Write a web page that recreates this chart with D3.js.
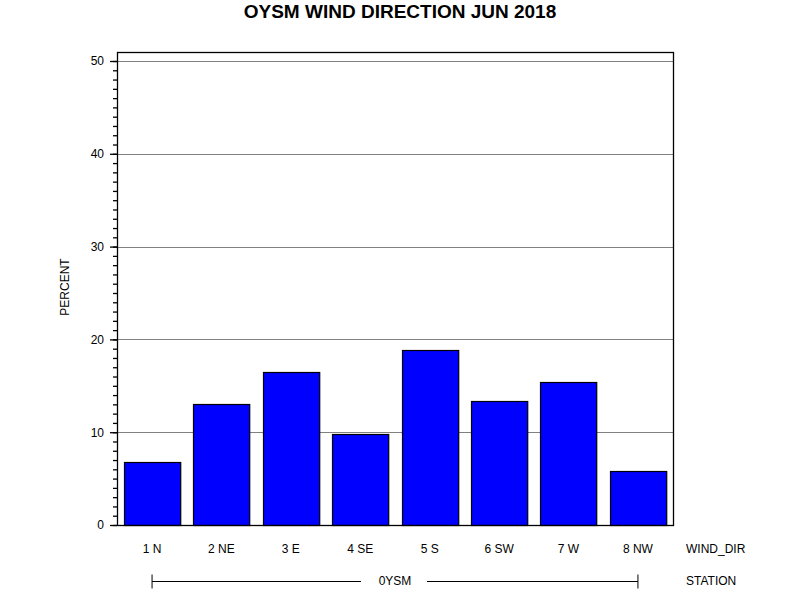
<!DOCTYPE html>
<html>
<head>
<meta charset="utf-8">
<script src="https://cdn.jsdelivr.net/npm/d3@7"></script>
<style>
  body { margin: 0; background: #fff; }
  svg { font-family: "Liberation Sans", Arial, sans-serif; }
</style>
</head>
<body>
<svg id="chart" width="800" height="600"></svg>
<script>
const windDirs = ["1 N", "2 NE", "3 E", "4 SE", "5 S", "6 SW", "7 W", "8 NW"];
const percents = [6.8, 13.0, 16.5, 9.8, 18.9, 13.4, 15.4, 5.8];
const majorTicks = [0, 10, 20, 30, 40, 50];
const station = "0YSM";

const margin = {left: 117, right: 127, top: 52, bottom: 75};
const width = 800 - margin.left - margin.right;
const height = 600 - margin.top - margin.bottom;

const svg = d3.select("#chart");

const yScale = d3.scaleLinear()
    .domain([0, 50.97])
    .range([height, 0]);

const xScale = d3.scaleBand()
    .domain(windDirs)
    .range([0, width])
    .paddingInner(0.19)
    .paddingOuter(0.1);

// title
svg.append("text")
    .text("OYSM WIND DIRECTION JUN 2018")
    .attr("x", 400)
    .attr("y", 18)
    .attr("text-anchor", "middle")
    .attr("font-weight", "bold")
    .attr("font-size", 19);

const g = svg.append("g")
    .attr("transform", `translate(${margin.left}, ${margin.top})`);

// grid lines
g.selectAll(".grid")
    .data(majorTicks.filter(d => d > 0))
    .enter()
    .append("line")
    .attr("x1", 0)
    .attr("x2", width)
    .attr("y1", d => Math.round(yScale(d)) + 0.5)
    .attr("y2", d => Math.round(yScale(d)) + 0.5)
    .attr("stroke", "#808080")
    .attr("stroke-width", 1);

// bars
g.selectAll(".bar")
    .data(percents)
    .enter()
    .append("rect")
    .attr("x", (d, i) => Math.round(xScale(windDirs[i])) + 0.5)
    .attr("y", d => Math.round(yScale(d)) + 0.5)
    .attr("width", xScale.bandwidth())
    .attr("height", d => Math.round(height - yScale(d)))
    .attr("fill", "#0000ff")
    .attr("stroke", "#000")
    .attr("stroke-width", 1.2);

// frame
g.append("rect")
    .attr("x", 0.5)
    .attr("y", 0.5)
    .attr("width", width)
    .attr("height", height)
    .attr("fill", "none")
    .attr("stroke", "#000")
    .attr("stroke-width", 1.3);

// y axis: minor ticks then major
const minorAxis = d3.axisLeft(yScale)
    .tickValues(d3.range(0, 51, 1))
    .tickSize(4)
    .tickFormat("");
const minor_g = g.append("g").call(minorAxis);
minor_g.select(".domain").remove();

const yAxis = d3.axisLeft(yScale)
    .tickValues(majorTicks)
    .tickSize(7)
    .tickPadding(6)
    .tickFormat(d3.format("d"));
const y_g = g.append("g").call(yAxis);
y_g.select(".domain").remove();
y_g.selectAll("text")
    .attr("font-size", 12)
    .attr("font-family", "'Liberation Sans', Arial, sans-serif")
    .attr("fill", "#000");
g.selectAll(".tick line").attr("stroke", "#000").attr("stroke-width", 1.3);

g.append("text")
    .text("PERCENT")
    .attr("transform", "rotate(-90)")
    .attr("x", -235)
    .attr("y", -48)
    .attr("text-anchor", "middle")
    .attr("font-size", 12);

// x labels
g.selectAll(".xlab")
    .data(windDirs)
    .enter()
    .append("text")
    .text(d => d)
    .attr("x", d => xScale(d) + xScale.bandwidth() / 2)
    .attr("y", height + 28)
    .attr("text-anchor", "middle")
    .attr("font-size", 12);

svg.append("text")
    .text("WIND_DIR")
    .attr("x", 686)
    .attr("y", 553)
    .attr("font-size", 12);

// station bracket
const x0 = margin.left + xScale(windDirs[0]) + xScale.bandwidth() / 2;
const x1 = margin.left + xScale(windDirs[windDirs.length - 1]) + xScale.bandwidth() / 2;
const sy = 581.5;
const mid = (x0 + x1) / 2;
const st = svg.append("g").attr("stroke", "#000").attr("stroke-width", 1);
st.append("line").attr("x1", x0).attr("x2", mid - 34).attr("y1", sy).attr("y2", sy);
st.append("line").attr("x1", mid + 32).attr("x2", x1).attr("y1", sy).attr("y2", sy);
st.append("line").attr("x1", x0).attr("x2", x0).attr("y1", sy - 7).attr("y2", sy + 7);
st.append("line").attr("x1", x1).attr("x2", x1).attr("y1", sy - 7).attr("y2", sy + 7);

svg.append("text")
    .text(station)
    .attr("x", mid)
    .attr("y", 585)
    .attr("text-anchor", "middle")
    .attr("font-size", 12);

svg.append("text")
    .text("STATION")
    .attr("x", 686)
    .attr("y", 585)
    .attr("font-size", 12);
</script>
</body>
</html>
